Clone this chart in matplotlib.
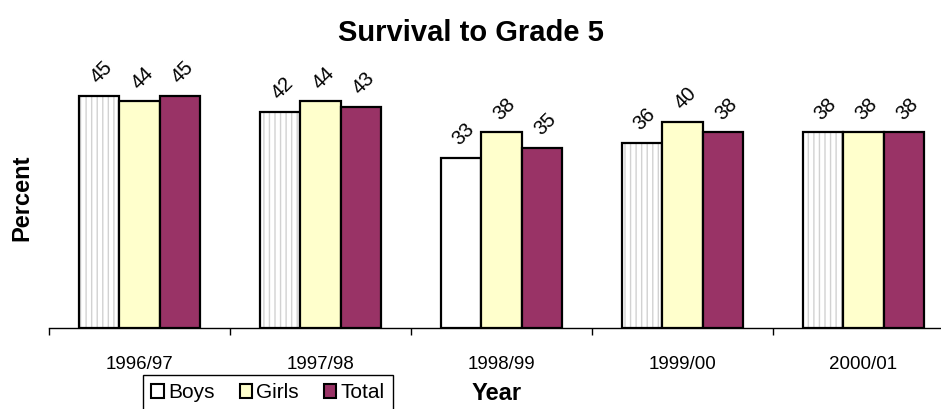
import matplotlib
matplotlib.use('Agg')
import matplotlib.pyplot as plt
from matplotlib.patches import Patch
import numpy as np

plt.rcParams['font.family'] = ['Liberation Sans', 'DejaVu Sans']

# data
years = ['1996/97', '1997/98', '1998/99', '1999/00', '2000/01']
boys = [45, 42, 33, 36, 38]
girls = [44, 44, 38, 40, 38]
total = [45, 43, 35, 38, 38]

boys_color = '#FFFFFF'
girls_color = '#FFFFCC'
total_color = '#993366'

fig = plt.figure(figsize=(9.41, 4.09), dpi=100)
W, H = 941.0, 409.0
ax = fig.add_axes([49 / W, (H - 328) / H, (954 - 49) / W, 257.5 / H])

x = np.arange(len(years))
w = 0.224

# boys: white with light grey vertical stripes (one bar left plain, as in the original)
hatches = ['|||', '|||', '', '|||', '|||']
for i in range(len(years)):
    ax.bar(x[i] - w, boys[i], w, color=boys_color, edgecolor='#D2D2D2',
           hatch=hatches[i], linewidth=0)
ax.bar(x - w, boys, w, fill=False, edgecolor='black', linewidth=1.6)
ax.bar(x, girls, w, color=girls_color, edgecolor='black', linewidth=1.6)
ax.bar(x + w, total, w, color=total_color, edgecolor='black', linewidth=1.6)

# rotated value labels
for off, vals in [(-w, boys), (0, girls), (w, total)]:
    for i, v in enumerate(vals):
        ax.annotate(str(v), (x[i] + off, v), xytext=(2, 17), textcoords='offset points',
                    rotation=45, ha='center', va='center', fontsize=14.5)

ax.set_xlim(-0.5, len(years) - 0.5)
ax.set_ylim(0, 50)

for s in ['top', 'right', 'left']:
    ax.spines[s].set_visible(False)
ax.spines['bottom'].set_linewidth(1.0)
ax.set_yticks([])

ax.set_xticks(np.arange(len(years) + 1) - 0.5)
ax.set_xticklabels([])
ax.tick_params(axis='x', which='major', direction='out', length=5, width=1)
ax.set_xticks(x, minor=True)
ax.set_xticklabels(years, minor=True, fontsize=13.5)
ax.tick_params(axis='x', which='minor', length=0, pad=20)

fig.text(470.5 / W, 1 - 33 / H, 'Survival to Grade 5', ha='center', va='center',
         fontsize=21, fontweight='bold')
fig.text(22 / W, 1 - 198 / H, 'Percent', ha='center', va='center', rotation=90,
         fontsize=17, fontweight='bold')
fig.text(497 / W, 1 - 394 / H, 'Year', ha='center', va='center',
         fontsize=17, fontweight='bold')

handles = [Patch(facecolor=boys_color, edgecolor='black', linewidth=1.5),
           Patch(facecolor=girls_color, edgecolor='black', linewidth=1.5),
           Patch(facecolor=total_color, edgecolor='black', linewidth=1.5)]
leg = fig.legend(handles, ['Boys', 'Girls', 'Total'], loc='upper left',
                 bbox_to_anchor=(143 / W, 1 - 375 / H), ncol=3, fontsize=15,
                 frameon=True, fancybox=False, framealpha=1, edgecolor='black',
                 handlelength=0.6, handleheight=0.6, handletextpad=0.2,
                 columnspacing=1.2, borderpad=0.4, borderaxespad=0)
leg.get_frame().set_linewidth(1.0)

fig.savefig('out.png', dpi=100)
